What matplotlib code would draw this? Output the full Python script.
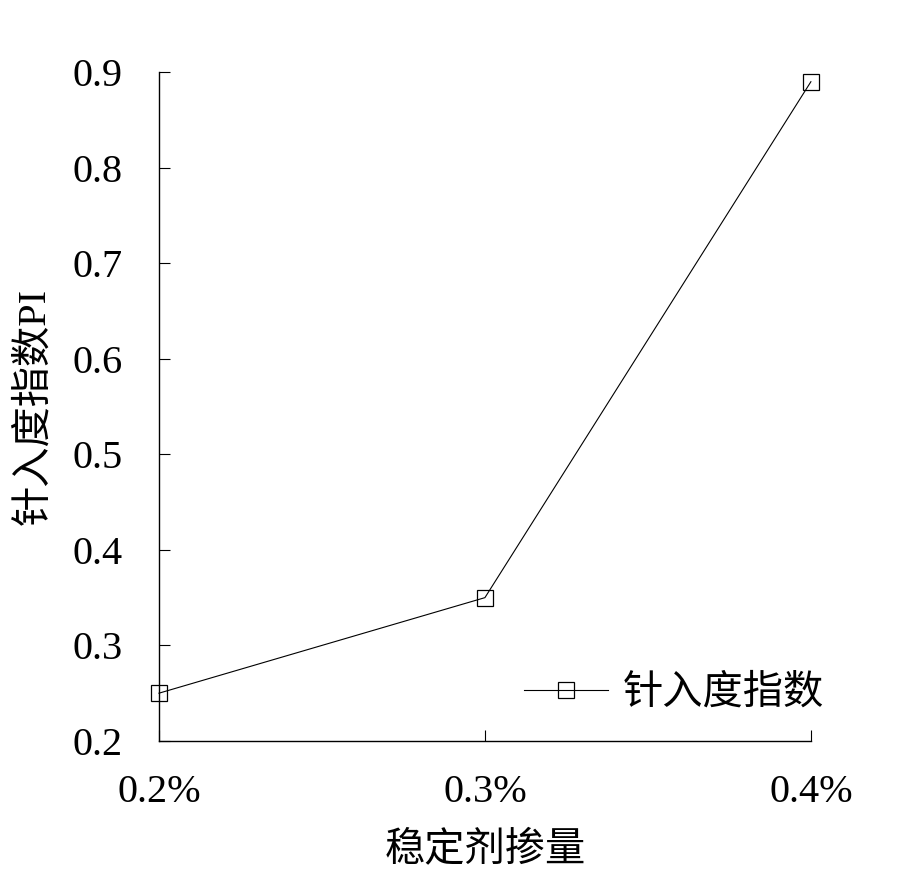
import matplotlib.pyplot as plt

plt.rcParams['font.family'] = ['Liberation Serif', 'Noto Sans CJK SC']
plt.rcParams['xtick.direction'] = 'in'
plt.rcParams['ytick.direction'] = 'in'

dosage = ['0.2%', '0.3%', '0.4%']
pi_values = [0.25, 0.35, 0.89]
y_ticks = [0.2, 0.3, 0.4, 0.5, 0.6, 0.7, 0.8, 0.9]

fig = plt.figure(figsize=(8.98, 8.8), dpi=100)
ax = fig.add_axes([0.177, 0.158, 0.726, 0.76])

x = range(len(dosage))
ax.plot(x, pi_values, color='black', linewidth=0.8, marker='s', markersize=12,
        markerfacecolor='none', markeredgecolor='black', markeredgewidth=0.9,
        label='针入度指数', clip_on=False, zorder=3)

ax.set_xlim(0, 2)
ax.set_ylim(0.2, 0.9)
ax.set_xticks(list(x))
ax.set_xticklabels(dosage)
ax.set_yticks(y_ticks)
ax.set_yticklabels([f'{v:.1f}' for v in y_ticks])
ax.tick_params(axis='both', direction='in', labelsize=29, length=8, width=0.8)
ax.tick_params(axis='x', pad=24)
ax.tick_params(axis='y', pad=26)

for side in ['top', 'right']:
    ax.spines[side].set_visible(False)
for side in ['left', 'bottom']:
    ax.spines[side].set_linewidth(1.0)

ax.set_xlabel('稳定剂掺量', fontsize=29, family=['Noto Sans CJK SC'], labelpad=12)
ax.set_ylabel('针入度指数PI', fontsize=29, labelpad=14)

leg = ax.legend(loc='lower right', bbox_to_anchor=(1.075, -0.012), frameon=False,
                prop={'family': 'Noto Sans CJK SC', 'size': 29},
                handlelength=2.1, handletextpad=0.35)

fig.savefig('out.png', dpi=100)
